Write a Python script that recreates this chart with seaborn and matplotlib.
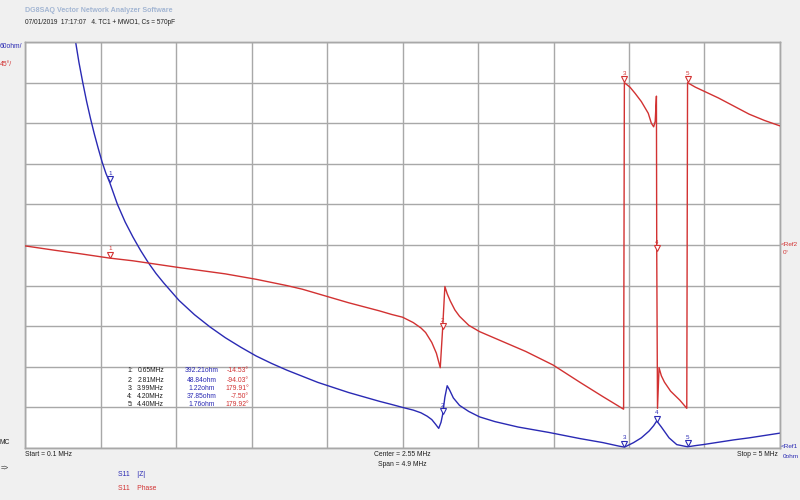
import numpy as np
import pandas as pd
import matplotlib
matplotlib.use("Agg")
import matplotlib.pyplot as plt
import matplotlib.transforms as mtransforms
import seaborn as sns

# ---------------- data ----------------
z_freq = [0.38, 0.42, 0.45, 0.475, 0.50, 0.525, 0.55, 0.575, 0.60, 0.625, 0.65,
          0.70, 0.75, 0.80, 0.85, 0.90, 0.95, 1.00, 1.10, 1.20, 1.30, 1.40, 1.50,
          1.60, 1.70, 1.80, 1.90, 2.00, 2.10, 2.20, 2.30, 2.40, 2.48, 2.55, 2.62,
          2.67, 2.71, 2.74, 2.765, 2.785, 2.80, 2.81,
          2.825, 2.84, 2.855, 2.88, 2.92, 2.98, 3.05, 3.15, 3.30, 3.50, 3.70, 3.85,
          3.95, 3.99, 4.05, 4.10, 4.15, 4.18, 4.20, 4.23, 4.28, 4.33, 4.40, 4.45,
          4.50, 4.60, 4.70, 4.80, 4.90, 5.00]
z_ohm = [680, 612, 570, 540, 512, 487, 464, 443, 423, 406, 392.21,
         360, 334, 312, 292, 274, 258, 244, 218, 197, 179, 163, 149,
         136, 125, 115, 106, 97, 89.5, 82, 75.5, 69, 64.3, 60, 56,
         52, 47, 42, 35, 29, 38, 48.84,
         75, 92, 86, 74, 63, 54, 46, 39, 31, 23, 14, 8,
         3, 1.22, 8, 15, 25, 33, 40, 31, 15, 5, 1.76, 3.5,
         5, 8.5, 12, 15, 18.5, 22]

ph_freq = [0.10, 0.20, 0.30, 0.45, 0.65, 0.80, 0.90, 1.00, 1.10, 1.25, 1.40, 1.50,
           1.60, 1.70, 1.80, 1.90, 2.00, 2.10, 2.20, 2.30, 2.40, 2.48, 2.55,
           2.62, 2.67, 2.70, 2.74, 2.77, 2.795, 2.81, 2.825, 2.84, 2.86, 2.89, 2.92,
           2.98, 3.05, 3.20, 3.35, 3.527, 3.70, 3.85, 3.985, 3.99, 4.026, 4.06, 4.10,
           4.145, 4.165, 4.18, 4.19, 4.198, 4.20, 4.205, 4.215, 4.23, 4.25, 4.29, 4.35,
           4.395, 4.40, 4.45, 4.50, 4.60, 4.70, 4.80, 4.90, 5.00]
ph_deg = [-1, -3.5, -6, -9.5, -14.53, -17.5, -20, -22.5, -25, -28.5, -32, -35,
          -38, -41.5, -45, -49, -54, -59, -64, -68.5, -73, -77, -80,
          -86, -92, -97, -108, -120, -136, -94.03, -46, -54, -62, -72, -79,
          -89, -96, -107, -118, -133, -152, -168, -182, 179.91, 175, 168, 159,
          146, 135, 131, 137, 165, -7.5, -181, -136, -145, -152, -162, -172,
          -181, 179.92, 175, 171, 163, 154, 145, 138, 132]

mk_num = ["1", "2", "3", "4", "5"]
mk_freq = [0.65, 2.81, 3.99, 4.20, 4.40]
mk_ohm = [392.21, 48.84, 1.22, 37.85, 1.76]
mk_deg = [-14.53, -94.03, 179.91, -7.50, 179.92]
mk_freq_lbl = ["0.65MHz", "2.81MHz", "3.99MHz", "4.20MHz", "4.40MHz"]
mk_ohm_lbl = ["392.21ohm", "48.84ohm", "1.22ohm", "37.85ohm", "1.76ohm"]
mk_deg_lbl = ["-14.53°", "-94.03°", "179.91°", "-7.50°", "179.92°"]

# ---------------- style ----------------
BLUE = "#2a2ab4"
RED = "#d23232"
GRID = "#a8a8a8"
BG = "#f0f0f0"
DARK = "#202020"

sns.set_theme(style="white")
plt.rcParams["font.family"] = ["Liberation Sans", "DejaVu Sans"]
FS = 4.9

fig = plt.figure(figsize=(8, 5), dpi=100)
fig.patch.set_facecolor(BG)

L, R, T, B = 25, 780, 42, 448
ax = fig.add_axes([L / 800, 1 - B / 500, (R - L) / 800, (B - T) / 500])
ax.set_facecolor("white")
ax2 = ax.twinx()

zdf = pd.DataFrame({"f": z_freq, "z": z_ohm})
pdf = pd.DataFrame({"f": ph_freq, "p": ph_deg})

sns.lineplot(data=zdf, x="f", y="z", ax=ax, color=BLUE, lw=1.0, sort=False,
             estimator=None, zorder=3)
sns.lineplot(data=pdf, x="f", y="p", ax=ax2, color=RED, lw=1.0, sort=False,
             estimator=None, zorder=3)

ax.set_xlim(0.1, 5.0)
ax.set_ylim(0, 600)
ax2.set_ylim(-225, 225)
ax.set_xticks(np.linspace(0.1, 5.0, 11))
ax.set_yticks(np.arange(0, 601, 60))
ax2.set_yticks([])
ax.grid(True, color=GRID, lw=1.0)
ax.set_axisbelow(True)
for a in (ax, ax2):
    a.set_xlabel("")
    a.set_ylabel("")
    a.tick_params(left=False, bottom=False, right=False, labelleft=False,
                  labelbottom=False, labelright=False)
    for s in a.spines.values():
        s.set_color(GRID)
        s.set_linewidth(1.0)

# markers
off = mtransforms.offset_copy(ax.transData, fig=fig, y=2.5, units="points")
off2 = mtransforms.offset_copy(ax2.transData, fig=fig, y=2.5, units="points")
for n, f, z, d in zip(mk_num, mk_freq, mk_ohm, mk_deg):
    ax.plot([f], [z], marker="v", ms=4, mfc="white", mec=BLUE, mew=0.8,
            transform=off, zorder=5, clip_on=False)
    ax.text(f, z, n, color=BLUE, fontsize=4.5, ha="center", va="bottom",
            transform=mtransforms.offset_copy(ax.transData, fig=fig, y=5, units="points"),
            zorder=5)
    ax2.plot([f], [d], marker="v", ms=4, mfc="white", mec=RED, mew=0.8,
             transform=off2, zorder=5, clip_on=False)
    ax2.text(f, d, n, color=RED, fontsize=4.5, ha="center", va="bottom",
             transform=mtransforms.offset_copy(ax2.transData, fig=fig, y=5, units="points"),
             zorder=5)


def px(x, y):
    return x / 800, 1 - y / 500


# header
fig.text(*px(25, 10), "DG8SAQ Vector Network Analyzer Software", color="#a3b6d3",
         fontsize=5.1, fontweight="bold", ha="left", va="center")
fig.text(*px(25, 23), "07/01/2019  17:17:07   4. TC1 + MWO1, Cs = 570pF",
         color=DARK, fontsize=4.7, ha="left", va="center")

# left scale labels
fig.text(*px(0, 46), "60ohm/", color=BLUE, fontsize=FS, ha="left", va="center")
fig.text(*px(0, 64), "45°/", color=RED, fontsize=FS, ha="left", va="center")
fig.text(*px(0, 443), "MC", color=DARK, fontsize=FS, ha="left", va="center")
fig.text(*px(1, 468), "=>", color=DARK, fontsize=FS, ha="left", va="center")

# right reference labels
fig.text(*px(781, 244), "<Ref2", color=RED, fontsize=4.6, ha="left", va="center")
fig.text(*px(783, 253), "0°", color=RED, fontsize=4.6, ha="left", va="center")
fig.text(*px(781, 447), "<Ref1", color=BLUE, fontsize=4.6, ha="left", va="center")
fig.text(*px(783, 456), "0ohm", color=BLUE, fontsize=4.6, ha="left", va="center")

# bottom axis texts
fig.text(*px(25, 455), "Start = 0.1 MHz", color=DARK, fontsize=FS, ha="left", va="center")
fig.text(*px(402, 455), "Center = 2.55 MHz", color=DARK, fontsize=FS, ha="center", va="center")
fig.text(*px(402, 464), "Span = 4.9 MHz", color=DARK, fontsize=FS, ha="center", va="center")
fig.text(*px(778, 455), "Stop = 5 MHz", color=DARK, fontsize=FS, ha="right", va="center")

# trace legend
fig.text(*px(118, 474), "S11    |Z|", color=BLUE, fontsize=FS, ha="left", va="center")
fig.text(*px(118, 489), "S11    Phase", color=RED, fontsize=FS, ha="left", va="center")

# marker table
rows_y = [371, 380, 388, 397, 405]
for n, fl, ol, dl, y in zip(mk_num, mk_freq_lbl, mk_ohm_lbl, mk_deg_lbl, rows_y):
    fig.text(*px(133, y), n + ":", color=DARK, fontsize=FS, ha="right", va="center")
    fig.text(*px(164, y), fl, color=DARK, fontsize=FS, ha="right", va="center")
    fig.text(*px(202, y), ol, color=BLUE, fontsize=FS, ha="center", va="center")
    fig.text(*px(249, y), dl, color=RED, fontsize=FS, ha="right", va="center")

fig.savefig("out.png", dpi=100, facecolor=BG)
